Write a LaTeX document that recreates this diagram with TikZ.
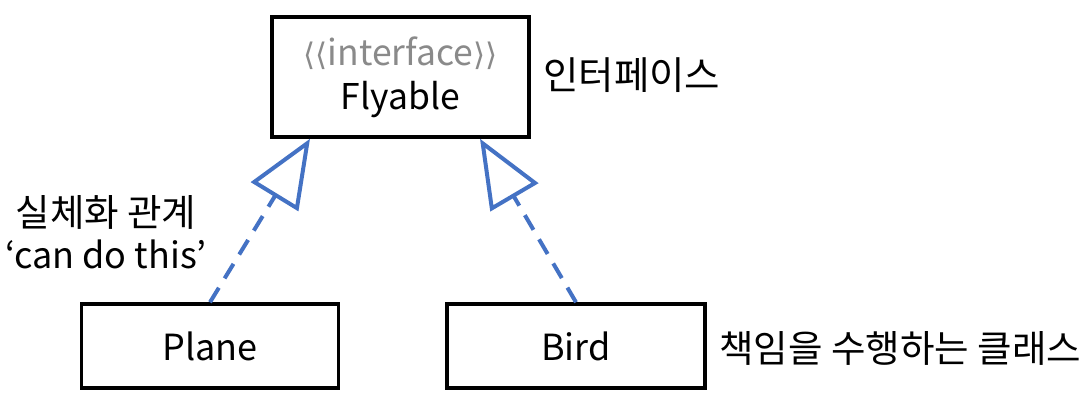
\documentclass[tikz,border=0pt]{standalone}
\usepackage{fontspec}
\setmainfont{Noto Sans CJK KR}
\newfontfamily\symfont{DejaVu Sans}
\usetikzlibrary{arrows.meta}
\definecolor{umlblue}{HTML}{4472C4}
\definecolor{stereo}{HTML}{8A8A8A}
\tikzset{
  classbox/.style={draw=black, line width=3.5pt, minimum width=257pt, inner sep=0pt, align=center},
  realize/.style={draw=umlblue, line width=4pt, dash pattern=on 17pt off 11pt,
    -{Triangle[open, length=68pt, width=55pt]}},
  lbl/.style={inner sep=0pt, align=center, font=\fontsize{37.5}{42}\selectfont}
}
\begin{document}
\begin{tikzpicture}[x=1pt, y=-1pt]
\useasboundingbox (0,0) rectangle (1090,408);
\node[classbox, minimum height=120pt, font=\fontsize{35.5}{44}\selectfont] (F) at (400.5,77)
  {{\color{stereo}{\symfont\fontsize{31}{44}\selectfont ⟨⟨}interface{\symfont\fontsize{31}{44}\selectfont ⟩⟩}}\\Flyable};
\node[classbox, minimum height=84pt, font=\fontsize{36}{42}\selectfont] (P) at (210,346) {Plane};
\node[classbox, minimum height=84pt, minimum width=258pt, font=\fontsize{36}{42}\selectfont] (B) at (576,346) {Bird};
\coordinate (tipP) at ([xshift=-90.5pt]F.south);
\coordinate (tipB) at ([xshift=79.5pt]F.south);
\draw[realize] (P.north) -- (tipP);
\draw[realize] (B.north) -- (tipB);
\node[lbl, anchor=west, font=\fontsize{38.5}{42}\selectfont] (iface) at (543,75) {인터페이스};
\node[lbl, align=center] (rel) at (106,232) {실체화 관계\\{\fontsize{36}{42}\selectfont ‘can do this’}};
\node[lbl, anchor=west] (resp) at (719,348) {책임을 수행하는 클래스};
\end{tikzpicture}
\end{document}
